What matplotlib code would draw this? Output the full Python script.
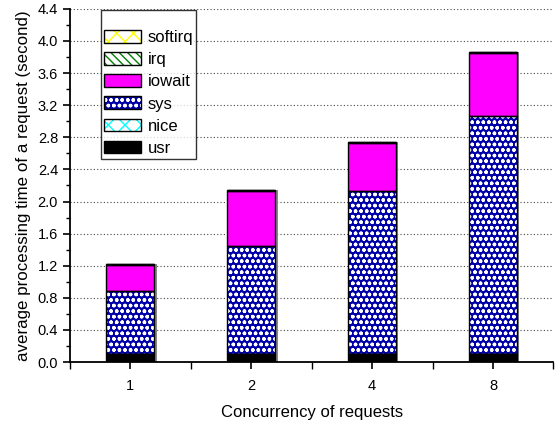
import numpy as np
import matplotlib
matplotlib.use("Agg")
import matplotlib.pyplot as plt
from matplotlib.patches import Patch
from matplotlib.legend_handler import HandlerTuple
from matplotlib.ticker import MultipleLocator

plt.rcParams["font.family"] = ["Liberation Sans", "DejaVu Sans"]

concurrency = ["1", "2", "4", "8"]
usr     = [0.10, 0.10, 0.10, 0.10]
nice    = [0.00, 0.00, 0.00, 0.00]
sys_    = [0.79, 1.34, 2.03, 2.96]
iowait  = [0.32, 0.69, 0.60, 0.79]
irq     = [0.01, 0.01, 0.01, 0.01]
softirq = [0.005, 0.005, 0.005, 0.005]

# (name, values, face, hatch, hatch colour)
SERIES = [
    ("usr", usr, "black", None, None),
    ("nice", nice, "white", "xx", "cyan"),
    ("sys", sys_, "#0000a8", "ooo", "white"),
    ("iowait", iowait, "#ff00ff", None, None),
    ("irq", irq, "white", "\\\\\\\\", "green"),
    ("softirq", softirq, "white", "xx", "yellow"),
]

fig = plt.figure(figsize=(5.59, 4.21), dpi=100)
ax = fig.add_axes([0.125, 0.14, 0.865, 0.839])

x = np.arange(1, len(concurrency) + 1)
w = 0.4

totals = np.sum([s[1] for s in SERIES], axis=0)
ax.bar(x + 0.018, totals, w, bottom=0.0, color="#888888", lw=0, zorder=1.5)

bottom = np.zeros(len(x))
handles = {}
for name, vals, face, hatch, hc in SERIES:
    vals = np.array(vals)
    ax.bar(x, vals, w, bottom=bottom, color=face, hatch=hatch,
           edgecolor=hc if hc else face, lw=0, zorder=2)
    ax.bar(x, vals, w, bottom=bottom, fill=False, edgecolor="black",
           lw=1.0, zorder=3)
    bottom += vals
    h1 = Patch(facecolor=face, hatch=hatch, edgecolor=hc if hc else face, lw=0)
    h2 = Patch(fill=False, edgecolor="black", lw=1.0)
    handles[name] = (h1, h2)

ax.set_xlim(0.5, 4.5)
ax.set_ylim(0, 4.4)
ax.set_xticks(x)
ax.set_xticklabels(concurrency)
ax.xaxis.set_minor_locator(MultipleLocator(0.5))
ax.yaxis.set_major_locator(MultipleLocator(0.4))
ax.yaxis.set_minor_locator(MultipleLocator(0.2))
ax.tick_params(axis="both", which="major", direction="out", length=5, width=1.2,
               labelsize=10.5)
ax.tick_params(axis="x", which="major", pad=7)
ax.tick_params(axis="both", which="minor", direction="out", length=3, width=1.0)
ax.tick_params(axis="x", which="minor", length=5)

for sp in ["top", "right"]:
    ax.spines[sp].set_visible(False)
for sp in ["left", "bottom"]:
    ax.spines[sp].set_linewidth(1.3)

ax.yaxis.grid(True, which="major", ls=(0, (1, 2)), color="#444444", lw=0.8)
ax.set_axisbelow(True)

ax.set_xlabel("Concurrency of requests", fontsize=12, labelpad=9)
ax.set_ylabel("average processing time of a request (second)", fontsize=12.2, labelpad=5)

order = ["softirq", "irq", "iowait", "sys", "nice", "usr"]
leg = ax.legend([handles[n] for n in order], order,
                handler_map={tuple: HandlerTuple(ndivide=1, pad=0)},
                loc="upper left", bbox_to_anchor=(0.064, 0.998),
                fontsize=12, title=" ", title_fontsize=7,
                frameon=True, fancybox=False, edgecolor="black",
                handlelength=2.2, handleheight=0.8, handletextpad=0.4,
                labelspacing=0.42, borderpad=0.2, borderaxespad=0.0)
leg.get_frame().set_linewidth(1.0)
leg.set_zorder(5)

fig.savefig("out.png", dpi=100)
